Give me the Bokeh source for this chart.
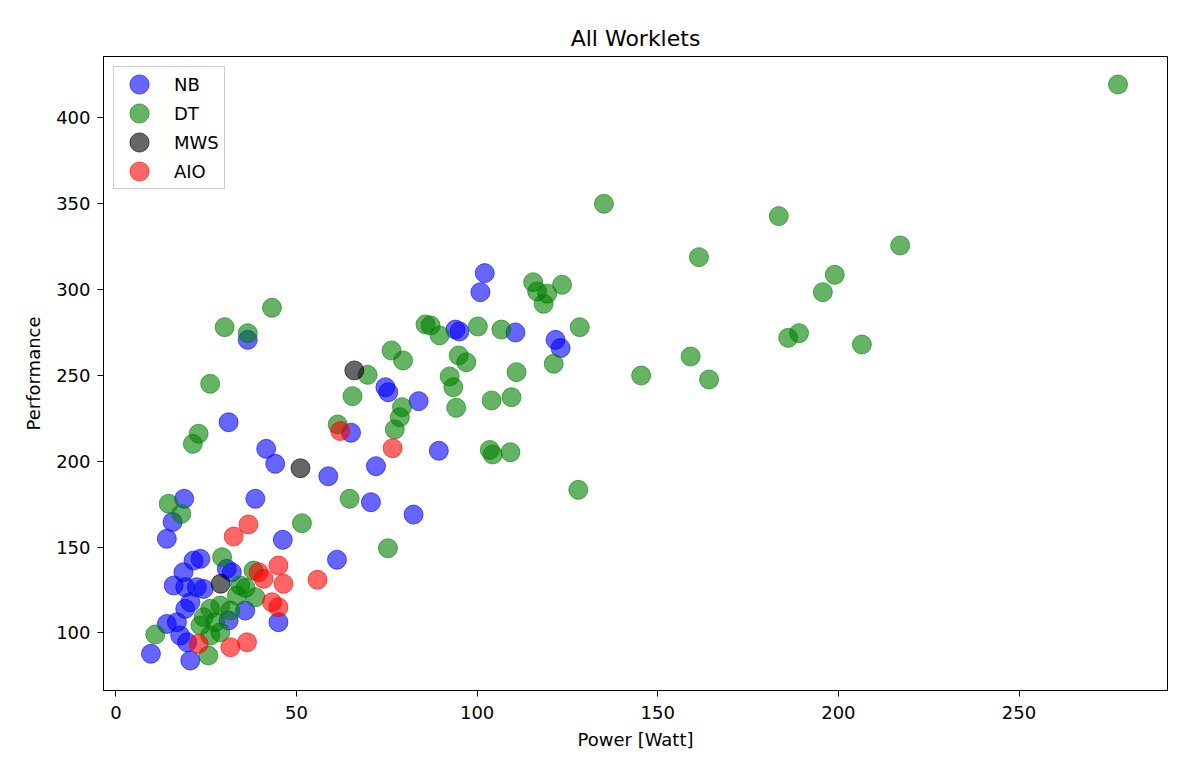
from bokeh.plotting import figure
from bokeh.models import Range1d, FixedTicker, Legend, LegendItem, ColumnDataSource
from bokeh.embed import file_html
from bokeh.resources import INLINE

# ---- data ----
nb_x = [102.1, 100.9, 94.0, 95.1, 110.6, 121.7, 123.1, 74.6, 75.4, 83.8, 89.4, 72.0, 65.1, 58.8,
        70.6, 82.4, 61.2, 36.5, 31.2, 41.6, 44.1, 38.6, 18.9, 15.7, 14.1, 46.2, 23.4, 21.5, 18.7,
        16.0, 19.2, 22.4, 24.3, 20.6, 19.2, 30.7, 32.1, 35.8, 31.2, 14.1, 16.9, 17.8, 19.7, 20.6,
        45.0, 9.7]
nb_y = [309.6, 298.5, 276.7, 275.6, 275.0, 270.7, 265.9, 243.1, 240.2, 235.0, 206.1, 197.1, 216.6,
        191.2, 176.1, 168.9, 142.6, 270.7, 222.7, 207.2, 198.5, 178.1, 178.1, 164.6, 154.8, 154.2,
        143.1, 142.1, 135.3, 127.6, 126.6, 126.6, 125.6, 117.8, 114.0, 137.3, 135.3, 113.0, 107.2,
        105.2, 106.2, 98.4, 94.5, 83.9, 106.2, 87.8]

dt_x = [277.4, 135.1, 183.5, 161.4, 217.1, 199.0, 195.7, 186.1, 189.1, 206.5, 159.1, 145.4, 164.2,
        128.0, 115.5, 123.5, 116.6, 119.4, 118.4, 85.7, 87.1, 89.6, 100.2, 106.7, 128.4, 76.3,
        79.5, 94.9, 97.0, 92.4, 93.4, 110.9, 121.2, 94.2, 104.0, 109.5, 79.2, 78.6, 77.2, 103.5,
        104.3, 109.2, 69.7, 65.5, 61.4, 36.5, 30.1, 43.2, 26.1, 22.9, 21.3, 64.7, 75.3, 51.5,
        14.6, 18.1, 29.4, 38.1, 34.4, 38.6, 33.5, 28.9, 26.1, 24.3, 27.5, 23.4, 28.9, 26.1, 25.6,
        10.9, 31.7, 35.9]
dt_y = [419.5, 350.0, 342.8, 318.9, 325.7, 308.6, 298.5, 271.9, 274.6, 268.0, 261.0, 249.9, 247.6,
        183.3, 304.3, 302.8, 298.9, 297.6, 291.7, 279.7, 279.1, 273.3, 278.5, 276.7, 278.1, 264.5,
        258.7, 261.6, 257.7, 249.4, 243.1, 251.9, 256.8, 231.1, 235.4, 237.3, 231.5, 225.6, 218.5,
        206.6, 203.9, 205.2, 250.3, 237.9, 221.4, 274.6, 278.1, 289.4, 245.1, 216.0, 210.1, 178.1,
        149.3, 163.9, 175.2, 169.3, 144.1, 136.3, 127.6, 120.7, 121.7, 115.9, 114.0, 109.1, 106.2,
        104.3, 100.3, 98.4, 86.8, 99.0, 113.0, 126.2]

mws_x = [66.0, 51.1, 29.0]
mws_y = [252.9, 195.9, 128.6]

aio_x = [62.1, 76.6, 36.7, 32.6, 39.5, 45.0, 40.9, 46.4, 43.2, 45.0, 22.9, 31.7, 36.3, 55.8]
aio_y = [217.6, 207.6, 163.1, 156.1, 135.3, 139.2, 131.5, 128.6, 117.8, 114.9, 93.6, 91.6, 94.5, 130.9]

series_names = ["NB", "DT", "MWS", "AIO"]
series_colors = ["#0000ff", "#008000", "#000000", "#ff0000"]
series_x = [nb_x, dt_x, mws_x, aio_x]
series_y = [nb_y, dt_y, mws_y, aio_y]

x_ticks = [0, 50, 100, 150, 200, 250]
y_ticks = [100, 150, 200, 250, 300, 350, 400]

FONT = "DejaVu Sans"

p = figure(width=1184, height=767, output_backend="svg", toolbar_location=None,
           x_range=Range1d(-3.43, 291.1), y_range=Range1d(66.4, 435.8),
           title="All Worklets", min_border_left=103, min_border_right=17,
           min_border_top=56, min_border_bottom=77)

p.title.align = "center"
p.title.text_font = FONT
p.title.text_font_size = "22px"
p.title.text_font_style = "normal"
p.title.text_color = "#000000"
p.title.standoff = 12

p.xgrid.visible = False
p.ygrid.visible = False
p.outline_line_color = "#000000"
p.outline_line_width = 1
p.outline_line_alpha = 1
p.background_fill_color = "white"
p.border_fill_color = "white"

for ax, ticks in ((p.xaxis[0], x_ticks), (p.yaxis[0], y_ticks)):
    ax.ticker = FixedTicker(ticks=ticks)
    ax.major_label_text_font = FONT
    ax.major_label_text_font_size = "18px"
    ax.major_label_text_color = "#000000"
    ax.axis_label_text_font = FONT
    ax.axis_label_text_font_size = "18px"
    ax.axis_label_text_font_style = "normal"
    ax.axis_label_text_color = "#000000"
    ax.major_tick_in = 0
    ax.major_tick_out = 6
    ax.minor_tick_line_color = None
    ax.axis_line_color = "#000000"
    ax.major_tick_line_color = "#000000"

p.xaxis[0].major_label_standoff = 9
p.yaxis[0].major_label_standoff = 7
p.xaxis[0].axis_label_standoff = 7
p.yaxis[0].axis_label_standoff = 9

p.xaxis.axis_label = "Power [Watt]"
p.yaxis.axis_label = "Performance"

items = []
for name, col, xs, ys in zip(series_names, series_colors, series_x, series_y):
    src = ColumnDataSource(dict(x=xs, y=ys))
    r = p.ellipse(x="x", y="y", width=19, height=19, width_units="screen", height_units="screen",
                  source=src, fill_color=col, fill_alpha=0.6, line_color=col, line_alpha=0.6,
                  line_width=1)
    items.append(LegendItem(label=name, renderers=[r]))

legend = Legend(items=items, location="top_left", margin=10, padding=5, spacing=5,
                glyph_width=40, glyph_height=24, label_height=24, label_standoff=15,
                label_text_font=FONT, label_text_font_size="18px", label_text_color="#000000",
                border_line_color="#cccccc", border_line_alpha=1, border_line_width=1,
                background_fill_color="white", background_fill_alpha=0.8)
p.add_layout(legend)

open("out.html", "w").write(file_html(p, INLINE))
